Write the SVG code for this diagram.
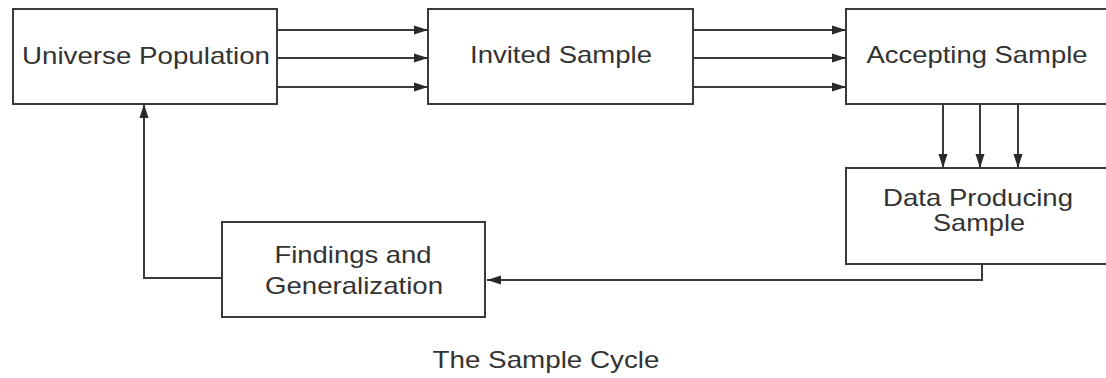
<svg xmlns="http://www.w3.org/2000/svg" width="1106" height="378" viewBox="0 0 1106 378">
  <style>
    .box { fill: #ffffff; stroke: #3a3a3a; stroke-width: 2; }
    .lbl { font-family: "Liberation Sans", Arial, sans-serif; font-size: 24px; fill: #333333; text-anchor: middle; }
    .wire { fill: none; stroke: #3a3a3a; stroke-width: 2; }
  </style>
  <defs>
    <marker id="arrow" viewBox="0 0 14 10" refX="14" refY="5" markerWidth="14" markerHeight="10" markerUnits="userSpaceOnUse" orient="auto">
      <path d="M0,0.5 L14,5 L0,9.5 Z" fill="#2a2a2a"/>
    </marker>
  </defs>
  <rect width="1106" height="378" fill="#ffffff"/>

  <g id="connectors">
    <!-- Universe Population to Invited Sample -->
    <line class="wire" x1="277" y1="30" x2="428" y2="30" marker-end="url(#arrow)"/>
    <line class="wire" x1="277" y1="58" x2="428" y2="58" marker-end="url(#arrow)"/>
    <line class="wire" x1="277" y1="87" x2="428" y2="87" marker-end="url(#arrow)"/>
    <!-- Invited Sample to Accepting Sample -->
    <line class="wire" x1="693" y1="30" x2="846" y2="30" marker-end="url(#arrow)"/>
    <line class="wire" x1="693" y1="58" x2="846" y2="58" marker-end="url(#arrow)"/>
    <line class="wire" x1="693" y1="87" x2="846" y2="87" marker-end="url(#arrow)"/>
    <!-- Accepting Sample to Data Producing Sample -->
    <line class="wire" x1="943" y1="104" x2="943" y2="168" marker-end="url(#arrow)"/>
    <line class="wire" x1="980" y1="104" x2="980" y2="168" marker-end="url(#arrow)"/>
    <line class="wire" x1="1018" y1="104" x2="1018" y2="168" marker-end="url(#arrow)"/>
    <!-- Data Producing Sample back to Findings -->
    <polyline class="wire" points="982,264 982,280 487,280" marker-end="url(#arrow)"/>
    <!-- Findings back to Universe Population -->
    <polyline class="wire" points="222,278 144,278 144,104" marker-end="url(#arrow)"/>
  </g>

  <g id="universe">
    <rect class="box" x="13" y="9" width="264" height="95"/>
    <text class="lbl" x="146" y="64" textLength="248" lengthAdjust="spacingAndGlyphs">Universe Population</text>
  </g>

  <g id="invited">
    <rect class="box" x="428" y="9" width="265" height="95"/>
    <text class="lbl" x="561" y="63" textLength="182" lengthAdjust="spacingAndGlyphs">Invited Sample</text>
  </g>

  <g id="accepting">
    <rect class="box" x="846" y="9" width="270" height="95"/>
    <text class="lbl" x="977" y="63" textLength="221" lengthAdjust="spacingAndGlyphs">Accepting Sample</text>
  </g>

  <g id="data-producing">
    <rect class="box" x="846" y="168" width="270" height="96"/>
    <text class="lbl" x="978" y="206" textLength="190" lengthAdjust="spacingAndGlyphs">Data Producing</text>
    <text class="lbl" x="979" y="231" textLength="92" lengthAdjust="spacingAndGlyphs">Sample</text>
  </g>

  <g id="findings">
    <rect class="box" x="222" y="222" width="263" height="95"/>
    <text class="lbl" x="353" y="263" textLength="157" lengthAdjust="spacingAndGlyphs">Findings and</text>
    <text class="lbl" x="354" y="294" textLength="178" lengthAdjust="spacingAndGlyphs">Generalization</text>
  </g>

  <text class="lbl" x="546" y="368" textLength="227" lengthAdjust="spacingAndGlyphs">The Sample Cycle</text>
</svg>
